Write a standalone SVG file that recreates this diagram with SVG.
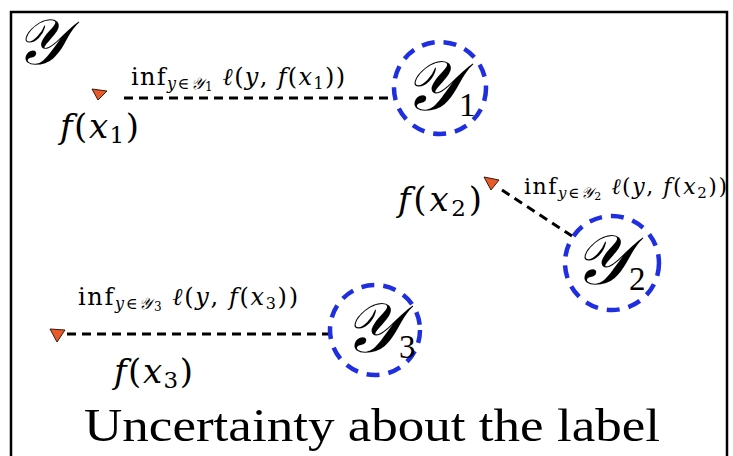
<svg xmlns="http://www.w3.org/2000/svg" width="733" height="456" viewBox="0 0 733 456">
<style>
.m{font-family:"Liberation Serif","DejaVu Serif",serif;fill:#000}
.d{font-family:"DejaVu Serif","Liberation Serif",serif;fill:#000}
.i{font-style:italic}
.dash{stroke:#000;stroke-width:3;stroke-dasharray:9 6;fill:none}
.set{fill:none;stroke:#1f2fe0;stroke-width:4.5;stroke-dasharray:13 9}
.tri{fill:#e85a2a;stroke:#3a1a10;stroke-width:1}
</style>
<rect x="11" y="12" width="716" height="460" fill="#fff" stroke="#000" stroke-width="2.5"/>
<text class="m" x="15" y="64" font-size="64" font-style="italic">𝒴</text>
<g id="connectors">
<line class="dash" x1="124" y1="98" x2="392" y2="98"/>
<line class="dash" x1="502" y1="190" x2="572" y2="236"/>
<line class="dash" x1="67" y1="334" x2="328" y2="334"/>
</g>
<g id="point1">
<polygon class="tri" points="92,89 107,91 98,100"/>
<text class="d i" x="60" y="138" font-size="34" textLength="79">f<tspan font-style="normal">(</tspan>x<tspan font-style="normal" font-size="23" dy="5">1</tspan><tspan font-style="normal" dy="-5">)</tspan></text>
</g>
<g id="label1">
<text class="d" x="131" y="85" font-size="24" textLength="214">inf<tspan font-size="16" dy="4" font-style="italic">y</tspan><tspan font-size="16">∈</tspan><tspan font-size="16" font-style="italic">𝒴</tspan><tspan font-size="12" dy="2">1</tspan><tspan dy="-6" font-style="italic"> ℓ</tspan>(<tspan font-style="italic">y</tspan>, <tspan font-style="italic">f</tspan>(<tspan font-style="italic">x</tspan><tspan font-size="16" dy="4">1</tspan><tspan dy="-4">))</tspan></text>
</g>
<g id="set1">
<circle class="set" cx="440" cy="88" r="46"/>
<text class="m" x="403" y="110" font-size="70" font-style="italic">𝒴<tspan font-style="normal" font-size="33" dx="1" dy="6">1</tspan></text>
</g>
<g id="point2">
<polygon class="tri" points="484,177 499,180 491,190"/>
<text class="d i" x="398" y="211" font-size="34" textLength="84">f<tspan font-style="normal">(</tspan>x<tspan font-style="normal" font-size="23" dy="5">2</tspan><tspan font-style="normal" dy="-5">)</tspan></text>
</g>
<g id="label2">
<text class="d" x="524" y="194" font-size="22" textLength="203">inf<tspan font-size="15" dy="4" font-style="italic">y</tspan><tspan font-size="15">∈</tspan><tspan font-size="15" font-style="italic">𝒴</tspan><tspan font-size="11" dy="2">2</tspan><tspan dy="-6" font-style="italic"> ℓ</tspan>(<tspan font-style="italic">y</tspan>, <tspan font-style="italic">f</tspan>(<tspan font-style="italic">x</tspan><tspan font-size="15" dy="4">2</tspan><tspan dy="-4">))</tspan></text>
</g>
<g id="set2">
<circle class="set" cx="612" cy="263" r="47"/>
<text class="m" x="573" y="284" font-size="70" font-style="italic">𝒴<tspan font-style="normal" font-size="33" dx="1" dy="6">2</tspan></text>
</g>
<g id="point3">
<polygon class="tri" points="50,329 65,330 57,342"/>
<text class="d i" x="114" y="383" font-size="34" textLength="79">f<tspan font-style="normal">(</tspan>x<tspan font-style="normal" font-size="23" dy="5">3</tspan><tspan font-style="normal" dy="-5">)</tspan></text>
</g>
<g id="label3">
<text class="d" x="78" y="305" font-size="24" textLength="220">inf<tspan font-size="16" dy="4" font-style="italic">y</tspan><tspan font-size="16">∈</tspan><tspan font-size="16" font-style="italic">𝒴</tspan><tspan font-size="12" dy="2">3</tspan><tspan dy="-6" font-style="italic"> ℓ</tspan>(<tspan font-style="italic">y</tspan>, <tspan font-style="italic">f</tspan>(<tspan font-style="italic">x</tspan><tspan font-size="16" dy="4">3</tspan><tspan dy="-4">))</tspan></text>
</g>
<g id="set3">
<circle class="set" cx="375" cy="330" r="45"/>
<text class="m" x="343" y="352" font-size="70" font-style="italic">𝒴<tspan font-style="normal" font-size="33" dx="1" dy="6">3</tspan></text>
</g>
<text class="m" x="84" y="441" font-size="46" textLength="576" lengthAdjust="spacingAndGlyphs">Uncertainty about the label</text>
</svg>
